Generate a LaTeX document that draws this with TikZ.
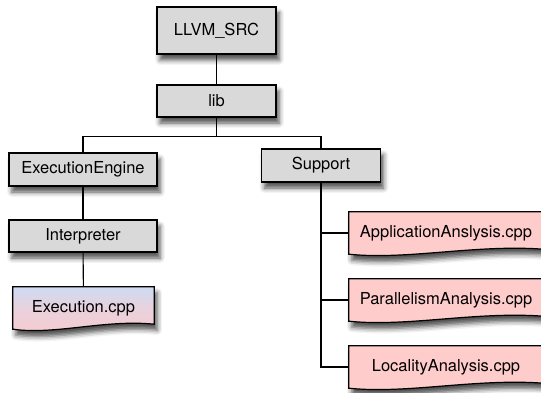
\documentclass[tikz,border=0pt]{standalone}
\usepackage{fontspec}
\setmainfont{TeX Gyre Heros}
\usetikzlibrary{calc,shadows.blur,backgrounds}
\definecolor{boxgray}{RGB}{217,217,217}
\definecolor{filepink}{RGB}{255,204,204}
\definecolor{fileblue}{RGB}{206,219,242}
\definecolor{filerose}{RGB}{247,204,208}
\tikzset{
  softshadow/.style={blur shadow={shadow xshift=3pt, shadow yshift=-6pt,
      shadow blur radius=5pt, shadow opacity=70}},
  label text/.style={font=\fontsize{16.5}{19}\selectfont, inner sep=0pt},
  dirbox/.style={label text, draw, line width=1.2pt, fill=boxgray, softshadow},
  filebox/.style={label text, minimum height=42pt},
  fileshape/.style={draw, line width=1.2pt, softshadow},
  link/.style={line width=1.1pt}
}
% document shape: flat top, wavy bottom edge, drawn round a named node
\newcommand\docshape[2]{%
  \path[fileshape,#2] (#1.north west) -- (#1.north east)
    -- ($(#1.south east)+(0,-5)$)
    .. controls ($(#1.south east)!0.35!(#1.south west)+(0,-10)$)
       and ($(#1.south west)!0.3!(#1.south east)+(0,6)$) .. (#1.south west)
    -- cycle;}
\begin{document}
\begin{tikzpicture}[x=1pt,y=-1pt]
\useasboundingbox (0,0) rectangle (541,393);

% directories
\node[dirbox, minimum width=119pt, minimum height=47pt] (src) at (216.5,30.5) {LLVM\_SRC};
\node[dirbox, minimum width=119pt, minimum height=32pt] (lib) at (216.5,101) {lib};
\node[dirbox, minimum width=148pt, minimum height=33pt] (ee) at (83,169.5) {ExecutionEngine};
\node[dirbox, minimum width=119pt, minimum height=33pt] (sup) at (321,165.5) {Support};
\node[dirbox, minimum width=148pt, minimum height=32pt] (interp) at (83,236) {Interpreter};

% source files
\node[filebox, minimum width=141pt] (exec) at (83.5,308) {Execution.cpp};
\node[filebox, minimum width=194pt] (app) at (446,233) {ApplicationAnslysis.cpp};
\node[filebox, minimum width=194pt] (para) at (446,300) {ParallelismAnalysis.cpp};
\node[filebox, minimum width=194pt] (loc) at (446,367) {LocalityAnalysis.cpp};

\begin{pgfonlayer}{background}
  \docshape{exec}{top color=fileblue, bottom color=filerose, middle color=filerose!70!fileblue}
  \docshape{app}{fill=filepink}
  \docshape{para}{fill=filepink}
  \docshape{loc}{fill=filepink}
\end{pgfonlayer}

% tree connectors
\draw[link] (src) -- (lib);
\draw[link] (lib.south) -- ++(0,19) -| (ee.north);
\draw[link] (lib.south) -- ++(0,19) -| (sup.north);
\draw[link] (ee) -- (interp);
\draw[link] (interp) -- (exec);
\draw[link] (sup.south) |- (app.west);
\draw[link] (sup.south) |- (para.west);
\draw[link] (sup.south) |- (loc.west);
\end{tikzpicture}
\end{document}
